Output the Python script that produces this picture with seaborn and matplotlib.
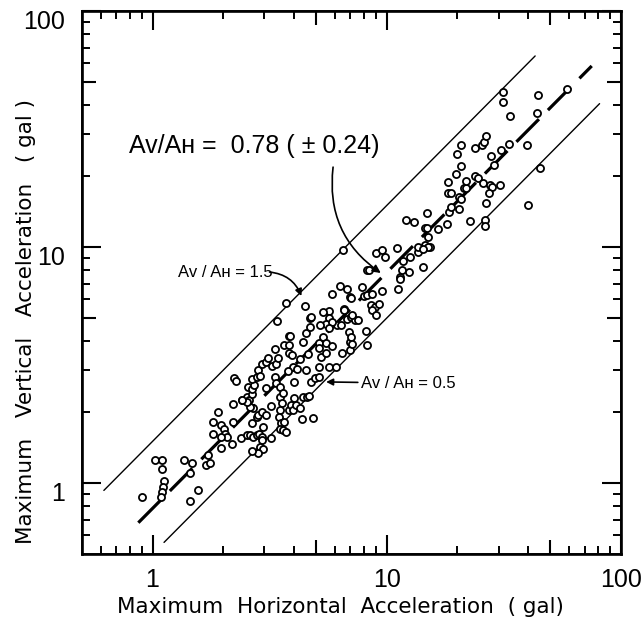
import matplotlib
matplotlib.use("Agg")
import matplotlib.pyplot as plt
import matplotlib.transforms as mtransforms
import pandas as pd
import seaborn as sns
from matplotlib.ticker import FixedLocator, LogLocator, NullLocator

# Peak accelerations (gal)
acc_h = [
    1.02, 1.10, 1.10, 1.12, 1.11, 1.10, 1.09, 0.90, 1.36, 1.47, 1.45, 1.44, 1.56,
    1.72, 1.69, 1.76, 1.81, 1.81, 1.90, 1.97, 2.01, 2.04, 2.07, 1.97, 1.97, 2.18,
    2.21, 2.21, 2.23, 2.27, 2.38, 2.42, 2.52, 2.56, 2.58, 2.65, 2.66, 2.70, 2.65,
    2.78, 2.82, 2.87, 2.93, 3.06, 3.11, 3.23, 3.38, 3.45, 3.32, 3.41, 3.66, 3.81,
    3.88, 3.84, 3.81, 3.95, 3.97, 4.00, 3.78, 4.13, 4.27, 4.38, 4.52, 4.62, 4.52,
    4.72, 4.72, 4.75, 4.94, 5.15, 5.15, 5.68, 6.06, 5.24, 5.12, 5.15, 5.50, 5.32,
    5.53, 5.86, 6.16, 6.37, 6.47, 6.57, 6.90, 7.00, 6.96, 7.06, 7.10, 6.79, 7.02,
    7.30, 7.56, 8.13, 8.25, 4.48, 5.68, 5.68, 5.53, 5.19, 5.86, 5.68,
    2.52, 2.60, 2.68, 2.78, 2.85, 2.92, 2.96, 2.94, 2.87, 2.96, 2.82, 2.67, 2.65,
    2.78, 2.82, 2.92, 3.04, 3.19, 3.06, 3.32, 3.38, 3.49, 3.49, 3.60, 3.58, 3.49,
    3.46, 3.54, 3.49, 3.60, 3.72, 3.66, 3.81, 3.91, 3.97, 4.00, 4.10, 4.27, 4.38,
    4.55, 4.67, 4.35, 4.86, 3.21, 2.68, 2.60, 2.52, 2.40,
    6.51, 8.25, 3.70, 6.30, 6.79, 5.83, 6.96, 7.86, 8.00, 6.57, 5.32, 7.10, 4.75,
    8.96, 9.50, 9.87, 11.06, 8.39, 7.02, 8.25, 8.66, 9.55, 8.53, 8.89, 9.25, 8.66,
    8.96, 11.16, 11.35, 11.69, 11.6, 11.4, 12.4, 12.6, 13.66, 14.35, 13.66, 14.6,
    15.3, 14.5, 14.8, 15.07, 14.9, 12.07, 13.1, 16.5, 18.0, 18.5, 18.8, 20.3, 18.3,
    18.8, 20.3, 20.8, 21.4, 21.8, 21.8, 18.3, 19.7, 20.8, 19.9, 20.8, 22.6, 23.9,
    25.5, 25.9, 26.4, 27.8, 28.7, 23.9, 24.5, 25.8, 27.5, 28.1, 27.3, 30.5, 26.4,
    26.2, 26.2, 30.6, 33.1, 33.7, 31.2, 31.3, 39.6, 43.8, 44.1, 45.2, 40.0, 59.0,
    15.07, 14.35,
]
acc_v = [
    1.25, 1.25, 1.15, 1.02, 0.965, 0.92, 0.87, 0.87, 1.25, 1.22, 1.10, 0.84, 0.93,
    1.31, 1.19, 1.21, 1.81, 1.62, 1.99, 1.76, 1.70, 1.62, 1.57, 1.57, 1.40, 1.46,
    1.82, 2.16, 2.79, 2.71, 1.55, 2.25, 2.31, 2.54, 2.25, 2.38, 2.49, 2.60, 2.76,
    2.82, 3.01, 2.84, 3.19, 3.27, 3.40, 3.13, 3.19, 3.38, 3.69, 4.87, 3.84, 4.20,
    4.20, 3.84, 3.55, 3.49, 3.11, 2.69, 2.99, 3.04, 3.35, 3.97, 3.01, 3.52, 4.31,
    4.60, 5.01, 2.69, 2.78, 2.82, 3.11, 3.11, 3.11, 3.43, 3.91, 3.72, 3.55, 4.17,
    3.91, 3.82, 4.67, 4.67, 3.55, 5.45, 4.38, 3.97, 3.66, 4.17, 3.87, 4.94, 5.07,
    4.91, 4.91, 4.42, 3.84, 5.62, 5.35, 4.99, 4.72, 4.67, 4.83, 4.52,
    1.60, 1.60, 1.57, 1.60, 1.62, 1.57, 1.72, 1.52, 1.42, 1.39, 1.34, 1.37, 1.80,
    1.91, 1.95, 2.00, 1.94, 2.11, 2.52, 2.82, 2.65, 2.56, 2.32, 2.40, 2.18, 2.04,
    1.91, 1.79, 1.70, 1.68, 1.65, 1.82, 2.04, 2.14, 2.04, 2.29, 2.14, 2.07, 2.31,
    2.32, 2.34, 1.86, 1.88, 1.55, 2.08, 2.09, 2.21, 2.25,
    9.71, 7.99, 5.81, 6.86, 6.62, 6.32, 6.12, 6.79, 6.20, 5.41, 5.32, 5.15, 5.04,
    9.40, 9.71, 9.10, 9.93, 7.99, 6.06, 6.27, 6.32, 6.53, 5.68, 5.58, 5.73, 5.41,
    5.15, 6.62, 7.49, 8.75, 7.99, 7.30, 7.86, 9.04, 9.50, 8.25, 10.03, 10.2,
    10.03, 12.0, 12.0, 11.0, 14.0, 13.0, 12.8, 11.9, 12.5, 14.1, 14.8, 14.45, 16.9,
    17.0, 16.3, 15.9, 17.7, 17.7, 19.0, 18.8, 20.4, 22.1, 24.8, 27.0, 12.9, 26.2,
    27.0, 27.9, 29.6, 24.3, 22.3, 20.0, 19.7, 18.6, 18.3, 18.0, 17.0, 18.3, 15.3,
    13.0, 12.3, 25.8, 27.3, 36.0, 41.3, 45.4, 27.0, 37.1, 44.0, 21.7, 15.0, 46.7,
    9.97, 9.78,
]

# Av/Ah ratio lines and the horizontal range each is drawn over
ratio_upper, upper_range = 1.5, [0.62, 43]
ratio_mean, mean_range = 0.78, [0.87, 75]
ratio_lower, lower_range = 0.5, [1.12, 81]

x_ticks = [1, 10, 100]
y_ticks = [1, 10, 100]
mid_ticks = [5, 50]

sns.set_theme(style="ticks")
plt.rcParams["font.family"] = ["Liberation Sans", "DejaVu Sans"]
plt.rcParams.update({"text.color": "black", "axes.labelcolor": "black",
                     "xtick.color": "black", "ytick.color": "black",
                     "axes.edgecolor": "black"})
label_font = ["DejaVu Sans"]

fig = plt.figure(figsize=(6.42, 6.26), dpi=100)
ax = fig.add_axes([0.1277, 0.115, 0.8396, 0.8674])

df = pd.DataFrame({"h": acc_h, "v": acc_v})
for ratio, rng, lw, ls in [
    (ratio_upper, upper_range, 1.0, "-"),
    (ratio_mean, mean_range, 2.3, (0, (10, 4))),
    (ratio_lower, lower_range, 1.0, "-"),
]:
    line = pd.DataFrame({"h": rng, "v": [ratio * h for h in rng]})
    sns.lineplot(data=line, x="h", y="v", ax=ax, color="black", lw=lw,
                 linestyle=ls, zorder=2)

sns.scatterplot(data=df, x="h", y="v", ax=ax, marker="o", s=26, color="white",
                edgecolor="black", linewidth=1.3, zorder=3)

ax.set_xscale("log")
ax.set_yscale("log")
ax.set_xlim(0.5, 100)
ax.set_ylim(0.5, 100)

ax.xaxis.set_major_locator(FixedLocator(x_ticks))
ax.yaxis.set_major_locator(FixedLocator(y_ticks))
ax.set_xticklabels([str(t) for t in x_ticks])
ax.set_yticklabels([str(t) for t in y_ticks])
ax.xaxis.set_minor_locator(LogLocator(base=10, subs=(2, 3, 4, 6, 7, 8, 9), numticks=20))
ax.yaxis.set_minor_locator(LogLocator(base=10, subs=(2, 3, 4, 6, 7, 8, 9), numticks=20))

ax.tick_params(which="major", direction="in", length=14, width=1.5, labelsize=18,
               top=True, right=True, color="black", labelcolor="black")
ax.tick_params(axis="x", which="major", pad=10)
ax.tick_params(axis="y", which="major", pad=12)
ax.tick_params(which="minor", direction="in", length=6, width=1.4,
               top=True, right=True, color="black")
# the y tick labels sit a little below their ticks in the original
shift = mtransforms.ScaledTranslation(0, -6 / 72, fig.dpi_scale_trans)
for lab in ax.get_yticklabels():
    lab.set_transform(lab.get_transform() + shift)

# medium ticks at 5 and 50 on every side
for loc in ["top", "bottom"]:
    sec = ax.secondary_xaxis(loc)
    sec.set_xticks(mid_ticks)
    sec.xaxis.set_minor_locator(NullLocator())
    sec.tick_params(direction="in", length=10, width=1.5, labelbottom=False,
                    labeltop=False, color="black")
for loc in ["left", "right"]:
    sec = ax.secondary_yaxis(loc)
    sec.set_yticks(mid_ticks)
    sec.yaxis.set_minor_locator(NullLocator())
    sec.tick_params(direction="in", length=10, width=1.5, labelleft=False,
                    labelright=False, color="black")

for s in ax.spines.values():
    s.set_linewidth(1.9)
    s.set_color("black")

ax.set_xlabel("Maximum  Horizontal  Acceleration  ( gal)", fontsize=15.5,
              family=label_font, color="black")
ax.xaxis.set_label_coords(0.48, -0.079)
ax.set_ylabel("Maximum   Vertical   Acceleration   ( gal )", fontsize=15.5,
              family=label_font, color="black")
ax.yaxis.set_label_coords(-0.085, 0.429)

ax.text(0.087, 0.7385, "Av/A\u029c =  0.78 ( \u00b1 0.24)", transform=ax.transAxes,
        fontsize=18, ha="left", va="baseline", color="black")
ax.annotate("", xy=(9.43, 7.76), xytext=(5.9, 21.8),
            arrowprops=dict(arrowstyle="-|>", connectionstyle="arc3,rad=0.3",
                            color="black", lw=1.2, mutation_scale=12,
                            shrinkA=0, shrinkB=0))

ax.text(0.178, 0.51, "Av / A\u029c = 1.5", transform=ax.transAxes, fontsize=12,
        ha="left", va="baseline", color="black")
ax.annotate("", xy=(4.32, 6.2), xytext=(3.16, 7.83),
            arrowprops=dict(arrowstyle="-|>", connectionstyle="arc3,rad=-0.3",
                            color="black", lw=1.2, mutation_scale=10,
                            shrinkA=0, shrinkB=0))

ax.annotate("Av / A\u029c = 0.5", xy=(5.51, 2.68), xytext=(7.77, 2.65),
            fontsize=12, ha="left", va="center", color="black",
            arrowprops=dict(arrowstyle="-|>", color="black", lw=1.2,
                            mutation_scale=10, shrinkA=0, shrinkB=0))

fig.savefig("out.png", dpi=100)
